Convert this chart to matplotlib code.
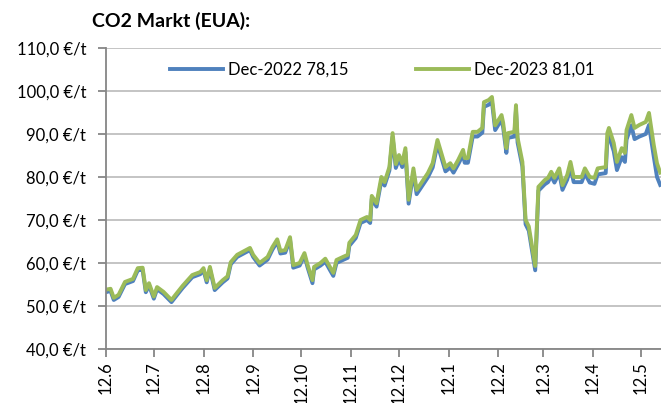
import pandas as pd
import matplotlib
matplotlib.use('Agg')
import matplotlib.pyplot as plt
from matplotlib.ticker import FuncFormatter

# data (daily EUA settlement, approx.)
dates = ['2021-06-12', '2021-06-15', '2021-06-17', '2021-06-20', '2021-06-24', '2021-06-29',
         '2021-07-02', '2021-07-05', '2021-07-07', '2021-07-09', '2021-07-12', '2021-07-14',
         '2021-07-18', '2021-07-23', '2021-07-27', '2021-07-30', '2021-08-05', '2021-08-10',
         '2021-08-12', '2021-08-14', '2021-08-16', '2021-08-19', '2021-08-24', '2021-08-27',
         '2021-08-29', '2021-09-02', '2021-09-10', '2021-09-12', '2021-09-16', '2021-09-21',
         '2021-09-24', '2021-09-27', '2021-09-29', '2021-10-02', '2021-10-05', '2021-10-07',
         '2021-10-11', '2021-10-14', '2021-10-16', '2021-10-19', '2021-10-20', '2021-10-24',
         '2021-10-27', '2021-10-30', '2021-11-01', '2021-11-03', '2021-11-07', '2021-11-10',
         '2021-11-11', '2021-11-15', '2021-11-18', '2021-11-22', '2021-11-24', '2021-11-25',
         '2021-11-28', '2021-12-01', '2021-12-03', '2021-12-06', '2021-12-08', '2021-12-10',
         '2021-12-12', '2021-12-14', '2021-12-16', '2021-12-18', '2021-12-21', '2021-12-23',
         '2021-12-25', '2021-12-30', '2022-01-02', '2022-01-05', '2022-01-10', '2022-01-13',
         '2022-01-15', '2022-01-18', '2022-01-21', '2022-01-22', '2022-01-24', '2022-01-27',
         '2022-01-30', '2022-02-02', '2022-02-03', '2022-02-06', '2022-02-08', '2022-02-10',
         '2022-02-14', '2022-02-15', '2022-02-17', '2022-02-18', '2022-02-22', '2022-02-23',
         '2022-02-24', '2022-02-27', '2022-03-01', '2022-03-03', '2022-03-07', '2022-03-09',
         '2022-03-13', '2022-03-15', '2022-03-17', '2022-03-19', '2022-03-22', '2022-03-24',
         '2022-03-27', '2022-03-29', '2022-03-31', '2022-04-05', '2022-04-07', '2022-04-10',
         '2022-04-13', '2022-04-15', '2022-04-20', '2022-04-21', '2022-04-22', '2022-04-25',
         '2022-04-27', '2022-04-30', '2022-05-02', '2022-05-03', '2022-05-06', '2022-05-08',
         '2022-05-11', '2022-05-15', '2022-05-17', '2022-05-20', '2022-05-22', '2022-05-24']

dec2023 = [53.8, 54.0, 51.9, 52.6, 55.6, 56.3,
           58.8, 58.9, 53.7, 55.3, 52.2, 54.4,
           53.3, 51.4, 53.3, 54.7, 57.2, 57.9,
           58.8, 56.0, 59.1, 54.2, 56.0, 56.9,
           60.2, 61.9, 63.5, 61.9, 60.0, 61.4,
           63.7, 65.5, 62.8, 63.0, 66.0, 59.5,
           60.0, 62.3, 59.5, 56.0, 59.1, 60.0,
           61.0, 59.0, 57.7, 60.7, 61.4, 61.9,
           64.7, 66.5, 70.0, 70.7, 70.0, 75.6,
           73.9, 80.0, 78.8, 82.3, 90.2, 83.0,
           85.1, 83.2, 86.7, 74.7, 82.0, 77.0,
           78.1, 80.9, 83.2, 88.6, 82.3, 83.2,
           82.0, 84.0, 86.3, 84.4, 84.4, 90.5,
           90.5, 91.4, 97.4, 97.9, 98.6, 92.0,
           94.4, 92.6, 86.7, 90.2, 90.5, 96.7,
           89.1, 83.5, 70.0, 68.5, 59.3, 77.7,
           79.3, 79.8, 81.2, 79.8, 82.0, 78.1,
           80.5, 83.5, 80.0, 80.0, 82.0, 80.0,
           79.8, 82.0, 82.3, 90.2, 91.4, 87.9,
           83.5, 86.7, 85.6, 90.9, 94.4, 91.4,
           92.1, 92.8, 94.9, 87.4, 83.2, 81.01]

dec2022 = [53.2, 53.5, 51.4, 52.1, 55.1, 55.8,
           58.3, 58.4, 53.2, 54.8, 51.7, 53.9,
           52.8, 50.9, 52.8, 54.2, 56.7, 57.4,
           58.3, 55.5, 58.6, 53.7, 55.5, 56.4,
           59.7, 61.4, 63.0, 61.4, 59.4, 60.8,
           63.1, 64.9, 62.2, 62.4, 65.4, 58.9,
           59.4, 61.7, 58.9, 55.3, 58.5, 59.4,
           60.3, 58.3, 57.0, 60.0, 60.7, 61.2,
           64.0, 65.8, 69.3, 70.0, 69.3, 74.9,
           73.1, 79.2, 78.0, 81.5, 89.3, 82.1,
           84.2, 82.3, 85.8, 73.8, 81.0, 76.0,
           77.1, 79.9, 82.2, 87.6, 81.3, 82.2,
           81.0, 83.0, 85.2, 83.3, 83.3, 89.4,
           89.4, 90.3, 96.3, 96.8, 97.5, 90.9,
           93.3, 91.5, 85.6, 89.1, 89.4, 95.6,
           88.0, 82.4, 69.0, 67.5, 58.3, 76.8,
           78.3, 78.8, 80.2, 78.7, 80.9, 77.0,
           79.4, 82.3, 78.8, 78.8, 80.8, 78.7,
           78.4, 80.6, 80.9, 88.5, 89.6, 86.0,
           81.6, 84.6, 83.5, 88.7, 92.0, 88.8,
           89.4, 90.0, 92.1, 84.7, 80.0, 78.15]

label_2022 = 'Dec-2022 78,15'
label_2023 = 'Dec-2023 81,01'
title = 'CO2 Markt (EUA):'


def euro_fmt(v, pos):
    return ('%.1f' % v).replace('.', ',') + ' €/t'


def main():
    plt.rcParams['font.family'] = ['Lato', 'DejaVu Sans']
    x = pd.to_datetime(dates)

    fig = plt.figure(figsize=(6.61, 4.03), dpi=100)
    ax = fig.add_axes([0.16, 0.134, 0.84, 0.747])

    ax.plot(x, dec2022, color='#4F81BD', lw=2.8, label=label_2022, solid_joinstyle='round')
    ax.plot(x, dec2023, color='#9BBB59', lw=2.8, label=label_2023, solid_joinstyle='round')

    ax.set_ylim(40, 110)
    ax.set_yticks(range(40, 111, 10))
    ax.yaxis.set_major_formatter(FuncFormatter(euro_fmt))
    ax.set_xlim(pd.Timestamp('2021-06-12'), pd.Timestamp('2022-05-24 12:00'))

    # ticks on the 12th of each month, labelled d.m
    ticks = pd.date_range('2021-06-01', '2022-05-01', freq='MS') + pd.Timedelta(days=11)
    ax.set_xticks(ticks)
    ax.set_xticklabels(['12.%d' % t.month for t in ticks], rotation=90)

    ax.grid(axis='y', color='#BFBFBF', lw=1.3)
    ax.set_axisbelow(True)
    for s in ['top', 'right']:
        ax.spines[s].set_visible(False)
    for s in ['left', 'bottom']:
        ax.spines[s].set_color('#868686')
        ax.spines[s].set_linewidth(1.3)
    ax.tick_params(axis='both', colors='#868686', width=1.3, length=6, labelsize=12,
                   labelcolor='black')
    ax.tick_params(axis='x', pad=3)
    ax.tick_params(axis='y', pad=8)

    ax.legend(loc='center', bbox_to_anchor=(0.498, 0.927), ncol=2, frameon=False,
              fontsize=12, handlelength=3.2, columnspacing=4.0, handletextpad=0.3)

    fig.text(0.139, 0.948, title, fontsize=14, fontweight='bold', va='center', ha='left')

    fig.savefig('out.png', dpi=100)


if __name__ == '__main__':
    main()
